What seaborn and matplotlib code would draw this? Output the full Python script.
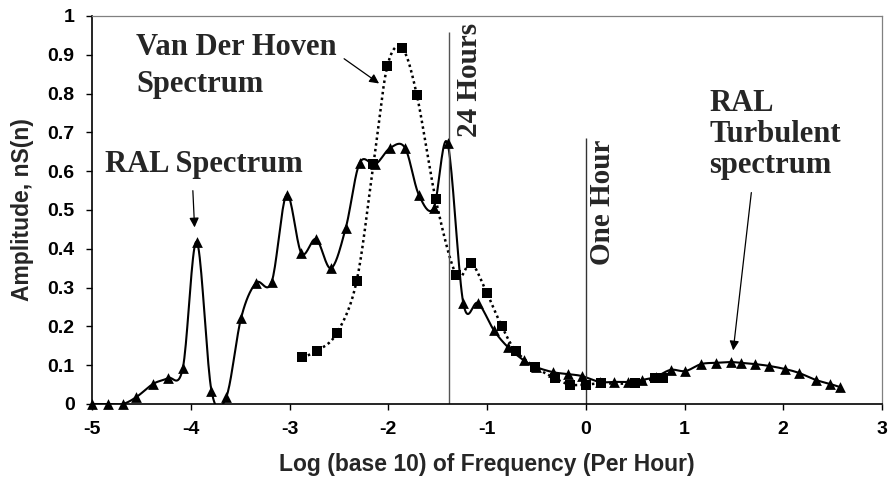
# Wind speed spectra: RAL measured spectrum vs Van der Hoven spectrum

import numpy as np
import matplotlib
matplotlib.use("Agg")
import matplotlib.pyplot as plt
import seaborn as sns

# RAL spectrum (triangles)
ral_x = [-5.0, -4.84, -4.69, -4.55, -4.38, -4.23, -4.08, -3.94, -3.79, -3.64,
         -3.49, -3.34, -3.18, -3.03, -2.88, -2.73, -2.58, -2.43, -2.29, -2.13,
         -1.98, -1.83, -1.69, -1.54, -1.40, -1.24, -1.09, -0.93, -0.79, -0.63,
         -0.50, -0.33, -0.18, -0.04, 0.14, 0.29, 0.43, 0.57, 0.71, 0.86,
         1.01, 1.17, 1.32, 1.47, 1.57, 1.71, 1.86, 2.02, 2.16, 2.33,
         2.47, 2.57]
ral_y = [0.0, 0.0, 0.0, 0.018, 0.052, 0.067, 0.093, 0.418, 0.034, 0.018,
         0.222, 0.312, 0.315, 0.539, 0.389, 0.425, 0.35, 0.454, 0.621, 0.618,
         0.66, 0.66, 0.539, 0.505, 0.672, 0.26, 0.26, 0.19, 0.147, 0.113,
         0.095, 0.082, 0.077, 0.072, 0.057, 0.057, 0.057, 0.062, 0.07, 0.088,
         0.085, 0.103, 0.106, 0.108, 0.106, 0.103, 0.098, 0.09, 0.08, 0.062,
         0.052, 0.044]

# Van der Hoven spectrum (squares)
vdh_x = [-2.87, -2.72, -2.52, -2.32, -2.15, -2.01, -1.86, -1.71, -1.52, -1.31,
         -1.16, -1.0, -0.85, -0.71, -0.51, -0.31, -0.16, 0.0, 0.15, 0.5,
         0.7, 0.78]
vdh_y = [0.121, 0.137, 0.183, 0.317, 0.618, 0.87, 0.917, 0.796, 0.528, 0.332,
         0.363, 0.285, 0.2, 0.137, 0.095, 0.066, 0.05, 0.05, 0.053, 0.053,
         0.066, 0.066]

x_ticks = [-5, -4, -3, -2, -1, 0, 1, 2, 3]
y_ticks = [0, 0.1, 0.2, 0.3, 0.4, 0.5, 0.6, 0.7, 0.8, 0.9, 1]
x_label = "Log (base 10) of Frequency (Per Hour)"
y_label = "Amplitude, nS(n)"

# 24 hours and one hour marker lines (log10 of 1/24 and 1 per hour)
day_x = np.log10(1 / 24)
hour_x = 0.0


def smooth(x, y, n=20):
    # excel style smoothed line: bezier through points, catmull-rom handles
    p = np.column_stack([x, y]).astype(float)
    p = np.vstack([p[0], p, p[-1]])
    t = np.linspace(0, 1, n)[:, None]
    segs = []
    for i in range(1, len(p) - 2):
        p0, p1, p2, p3 = p[i - 1], p[i], p[i + 1], p[i + 2]
        c1 = p1 + (p2 - p0) / 6
        c2 = p2 - (p3 - p1) / 6
        b = (1 - t) ** 3 * p1 + 3 * (1 - t) ** 2 * t * c1 + 3 * (1 - t) * t ** 2 * c2 + t ** 3 * p2
        segs.append(b if i == len(p) - 3 else b[:-1])
    out = np.vstack(segs)
    return out[:, 0], out[:, 1]


sns.set_style("ticks")
plt.rcParams['font.family'] = ['Liberation Sans', 'DejaVu Sans']

fig = plt.figure(figsize=(8.89, 4.88), dpi=100)
ax = fig.add_axes([92 / 889, 84 / 488, 790 / 889, 388 / 488])

# smoothed curves
sx, sy = smooth(ral_x, ral_y)
sns.lineplot(x=sx, y=sy, sort=False, estimator=None, color='black', lw=1.5, ax=ax)
sx, sy = smooth(vdh_x, vdh_y)
sns.lineplot(x=sx, y=sy, sort=False, estimator=None, color='black', lw=1.8,
             linestyle=(0, (1, 1.3)), ax=ax)

# markers
sns.scatterplot(x=ral_x, y=ral_y, marker='^', s=60, color='black', edgecolor='black',
                linewidth=0, ax=ax, zorder=3, clip_on=False)
sns.scatterplot(x=vdh_x, y=vdh_y, marker='s', s=50, color='black', edgecolor='black',
                linewidth=0, ax=ax, zorder=4, clip_on=False)

# 24 hours / one hour lines
ax.vlines(day_x, 0, 0.959, color='#555555', lw=1)
ax.vlines(hour_x, 0, 0.686, color='#333333', lw=1)

ax.set_xlim(-5, 3)
ax.set_ylim(0, 1)
ax.set_xticks(x_ticks)
ax.set_yticks(y_ticks)
ax.set_xticklabels([f"{v:g}" for v in x_ticks], fontweight='bold')
ax.set_yticklabels([f"{v:g}" for v in y_ticks], fontweight='bold')
ax.tick_params(direction='out', length=4.5, width=1, labelsize=14, colors='black', pad=8)

ax.set_xlabel(x_label, fontsize=16.5, fontweight='bold')
ax.set_ylabel(y_label, fontsize=16.5, fontweight='bold')
ax.xaxis.set_label_coords(0.5, -0.125)
ax.yaxis.set_label_coords(-0.074, 0.5)

for s in ['left', 'bottom']:
    ax.spines[s].set_color('black')
    ax.spines[s].set_linewidth(1.2)
for s in ['top', 'right']:
    ax.spines[s].set_color('#808080')
    ax.spines[s].set_linewidth(0.9)

# annotations
serif = dict(family=['Liberation Serif', 'DejaVu Serif'], fontweight='bold', fontsize=22)
arrow = dict(arrowstyle='-|>', color='black', lw=0.9, mutation_scale=14)

ax.text(-4.55, 0.955, "Van Der Hoven\nSpectrum", ha='left', va='top', linespacing=1.35, **serif)
ax.annotate("", xy=(-2.07, 0.822), xytext=(-2.47, 0.894), arrowprops=arrow)

ax.text(-4.87, 0.655, "RAL Spectrum", ha='left', va='top', **serif)
ax.annotate("", xy=(-3.96, 0.448), xytext=(-3.98, 0.557), arrowprops=arrow)

ax.text(1.25, 0.812, "RAL\nTurbulent\nspectrum", ha='left', va='top', linespacing=1.1, **serif)
ax.annotate("", xy=(1.49, 0.131), xytext=(1.68, 0.552), arrowprops=arrow)

ax.text(-1.31, 0.688, "24 Hours", rotation=90, ha='left', va='bottom',
        **{**serif, 'fontsize': 21})
ax.text(0.03, 0.358, "One Hour", rotation=90, ha='left', va='bottom',
        **{**serif, 'fontsize': 21})

fig.savefig("out.png", dpi=100)
